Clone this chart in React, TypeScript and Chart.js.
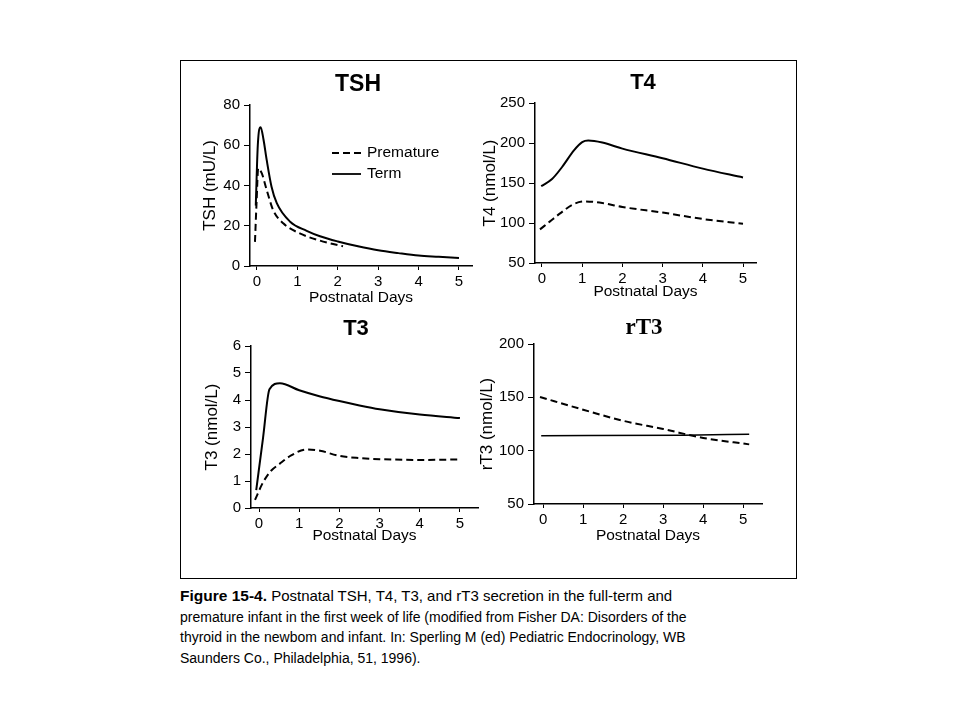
import React, { useEffect, useRef } from 'react';
import { Chart, registerables } from 'chart.js';

Chart.register(...registerables);

// ---------- data ----------
const xTickValues = [0, 1, 2, 3, 4, 5];
const tshTicks = [0, 20, 40, 60, 80];
const t4Ticks = [50, 100, 150, 200, 250];
const t3Ticks = [0, 1, 2, 3, 4, 5, 6];
const rt3Ticks = [50, 100, 150, 200];

const seriesLabels = ['Premature', 'Term'];

const tshPrematureDays = [-0.05, -0.01, 0.03, 0.12, 0.24, 0.4, 0.65, 1.06, 1.56, 2.0, 2.13];
const tshPrematureValues = [12, 32, 48.5, 46, 37.8, 27.8, 21.2, 16.2, 12.6, 10.4, 9.8];
const tshTermDays = [-0.03, 0.02, 0.09, 0.16, 0.24, 0.36, 0.49, 0.82, 1.23, 1.56, 2, 2.5, 3, 3.5, 4, 4.5, 5];
const tshTermValues = [30, 60, 69, 63, 52.7, 39.4, 31.2, 22, 17.5, 14.8, 12.2, 9.8, 7.8, 6.4, 5.2, 4.6, 4.0];

const t4PrematureDays = [-0.05, 0.2, 0.45, 0.78, 1.07, 1.5, 2, 3, 4, 5];
const t4PrematureValues = [92, 102, 112, 123.5, 127, 125, 120, 113, 105, 99];
const t4TermDays = [-0.02, 0.25, 0.5, 0.8, 1.0, 1.15, 1.5, 2, 3, 4, 5];
const t4TermValues = [146, 155, 170, 191, 201, 203, 200.5, 193, 181, 168, 157];

const t3PrematureDays = [-0.1, 0.1, 0.3, 0.5, 0.8, 1.19, 1.52, 2, 2.5, 3, 4, 5];
const t3PrematureValues = [0.3, 0.95, 1.38, 1.62, 1.95, 2.17, 2.12, 1.93, 1.85, 1.81, 1.78, 1.8];
const t3TermDays = [-0.07, 0.1, 0.26, 0.52, 1, 1.5, 2, 2.5, 3, 4, 5];
const t3TermValues = [0.66, 2.6, 4.4, 4.62, 4.36, 4.14, 3.96, 3.8, 3.66, 3.46, 3.33];

const rt3PrematureDays = [-0.08, 1, 2, 3, 4, 5.15];
const rt3PrematureValues = [150.3, 138.4, 128, 120.3, 111.9, 105.9];
const rt3TermDays = [-0.05, 3.5, 5.15];
const rt3TermValues = [114, 114.5, 115.5];

const captionFirstBold = 'Figure 15-4.';
const captionFirstRest = ' Postnatal TSH, T4, T3, and rT3 secretion in the full-term and';
const captionLines = [
  'premature infant in the first week of life (modified from Fisher DA: Disorders of the',
  'thyroid in the newbom and infant. In: Sperling M (ed) Pediatric Endocrinology, WB',
  'Saunders Co., Philadelphia, 51, 1996).',
];

// ---------- styling / layout ----------
const SANS = '"Liberation Sans", Arial, Helvetica, sans-serif';
const SERIF = '"Liberation Serif", "Times New Roman", serif';
const DASH = [7, 4];
const Y_TITLE_SIZE = 17;
const X_TITLE_SIZE = 15.5;

type Series = { label: string; days: number[]; values: number[]; dashed: boolean; width?: number };
type PanelDef = {
  key: string;
  title: string;
  titleFont: string;
  titlePos: [number, number];
  yTitle: string;
  yTicks: number[];
  xMin: number;
  xMax: number;
  area: { left: number; right: number; top: number; bottom: number };
  canvas: { left: number; top: number; right: number; bottom: number };
  series: Series[];
  legend?: { x: number; y: number; len: number; gap: number; textGap: number };
};

const panels: PanelDef[] = [
  {
    key: 'tsh',
    title: 'TSH',
    titleFont: `bold 23px ${SANS}`,
    titlePos: [358, 85],
    yTitle: 'TSH (mU/L)',
    yTicks: tshTicks,
    xMin: -0.173,
    xMax: 5.322,
    area: { left: 250, right: 472, top: 105, bottom: 266 },
    canvas: { left: 200, top: 64, right: 484, bottom: 307 },
    series: [
      { label: seriesLabels[0], days: tshPrematureDays, values: tshPrematureValues, dashed: true },
      { label: seriesLabels[1], days: tshTermDays, values: tshTermValues, dashed: false },
    ],
    legend: { x: 332, y: 153, len: 29, gap: 21, textGap: 6 },
  },
  {
    key: 't4',
    title: 'T4',
    titleFont: `bold 22px ${SANS}`,
    titlePos: [643, 83],
    yTitle: 'T4 (nmol/L)',
    yTicks: t4Ticks,
    xMin: -0.174,
    xMax: 5.323,
    area: { left: 535, right: 756, top: 103, bottom: 263 },
    canvas: { left: 480, top: 64, right: 768, bottom: 301 },
    series: [
      { label: seriesLabels[0], days: t4PrematureDays, values: t4PrematureValues, dashed: true },
      { label: seriesLabels[1], days: t4TermDays, values: t4TermValues, dashed: false },
    ],
  },
  {
    key: 't3',
    title: 'T3',
    titleFont: `bold 22px ${SANS}`,
    titlePos: [356, 329],
    yTitle: 'T3 (nmol/L)',
    yTicks: t3Ticks,
    xMin: -0.2,
    xMax: 5.45,
    area: { left: 251, right: 478, top: 346, bottom: 508 },
    canvas: { left: 202, top: 310, right: 490, bottom: 545 },
    series: [
      { label: seriesLabels[0], days: t3PrematureDays, values: t3PrematureValues, dashed: true },
      { label: seriesLabels[1], days: t3TermDays, values: t3TermValues, dashed: false },
    ],
  },
  {
    key: 'rt3',
    title: 'rT3',
    titleFont: `bold 23px ${SERIF}`,
    titlePos: [644, 328],
    yTitle: 'rT3 (nmol/L)',
    yTicks: rt3Ticks,
    xMin: -0.23,
    xMax: 5.47,
    area: { left: 534, right: 762, top: 344, bottom: 504 },
    canvas: { left: 477, top: 310, right: 774, bottom: 545 },
    series: [
      { label: seriesLabels[0], days: rt3PrematureDays, values: rt3PrematureValues, dashed: true },
      { label: seriesLabels[1], days: rt3TermDays, values: rt3TermValues, dashed: false, width: 1.5 },
    ],
  },
];

const panelTextPlugin = {
  id: 'panelText',
  afterDraw(chart: any, _args: any, opts: any) {
    const ctx = chart.ctx as CanvasRenderingContext2D;
    ctx.save();
    ctx.fillStyle = '#000';
    ctx.textBaseline = 'middle';
    if (opts.title) {
      ctx.font = opts.title.font;
      ctx.textAlign = 'center';
      ctx.fillText(opts.title.text, opts.title.x, opts.title.y);
    }
    if (opts.legend) {
      const lg = opts.legend;
      chart.data.datasets.forEach((ds: any, i: number) => {
        const y = lg.y + i * lg.gap;
        ctx.beginPath();
        ctx.setLineDash(ds.borderDash || []);
        ctx.lineWidth = 1.8;
        ctx.strokeStyle = '#000';
        ctx.moveTo(lg.x, y);
        ctx.lineTo(lg.x + lg.len, y);
        ctx.stroke();
        ctx.setLineDash([]);
        ctx.font = `15.5px ${SANS}`;
        ctx.textAlign = 'left';
        ctx.fillText(ds.label, lg.x + lg.len + lg.textGap, y);
      });
    }
    ctx.restore();
  },
};

function buildConfig(p: PanelDef): any {
  const cl = p.canvas.left;
  const ct = p.canvas.top;
  return {
    type: 'line',
    data: {
      datasets: p.series.map((s) => ({
        label: s.label,
        data: s.days.map((d, i) => ({ x: d, y: s.values[i] })),
        borderColor: '#000',
        borderWidth: s.width ?? 2,
        borderDash: s.dashed ? DASH : [],
        pointRadius: 0,
        fill: false,
        cubicInterpolationMode: 'monotone',
      })),
    },
    options: {
      responsive: false,
      animation: false,
      events: [],
      layout: {
        padding: {
          left: 0,
          top: p.area.top - ct,
          right: p.canvas.right - p.area.right,
          bottom: 0,
        },
      },
      plugins: {
        legend: { display: false },
        title: { display: false },
        tooltip: { enabled: false },
        panelText: {
          title: { text: p.title, font: p.titleFont, x: p.titlePos[0] - cl, y: p.titlePos[1] - ct },
          legend: p.legend ? { ...p.legend, x: p.legend.x - cl, y: p.legend.y - ct } : null,
        },
      },
      scales: {
        x: {
          type: 'linear',
          min: p.xMin,
          max: p.xMax,
          afterFit: (s: any) => {
            s.height = p.canvas.bottom - p.area.bottom;
          },
          afterBuildTicks: (s: any) => {
            s.ticks = xTickValues.map((v) => ({ value: v }));
          },
          grid: { drawOnChartArea: false, drawTicks: true, tickLength: 4, color: '#000', lineWidth: 1 },
          border: { display: true, color: '#000', width: 1.5 },
          ticks: { color: '#000', font: { family: SANS, size: 15 }, padding: 3, maxRotation: 0, autoSkip: false },
          title: { display: true, text: 'Postnatal Days', color: '#000', font: { family: SANS, size: X_TITLE_SIZE }, padding: 0 },
        },
        y: {
          type: 'linear',
          min: p.yTicks[0],
          max: p.yTicks[p.yTicks.length - 1],
          afterFit: (s: any) => {
            s.width = p.area.left - cl;
          },
          afterBuildTicks: (s: any) => {
            s.ticks = p.yTicks.map((v) => ({ value: v }));
          },
          grid: { drawOnChartArea: false, drawTicks: true, tickLength: 6, color: '#000', lineWidth: 1 },
          border: { display: true, color: '#000', width: 1.5 },
          ticks: { color: '#000', font: { family: SANS, size: 15 }, padding: 4, autoSkip: false },
          title: { display: true, text: p.yTitle, color: '#000', font: { family: SANS, size: Y_TITLE_SIZE }, padding: 0 },
        },
      },
    },
    plugins: [panelTextPlugin],
  };
}

function Panel({ def }: { def: PanelDef }) {
  const ref = useRef<HTMLCanvasElement | null>(null);
  const w = def.canvas.right - def.canvas.left;
  const h = def.canvas.bottom - def.canvas.top;
  useEffect(() => {
    if (!ref.current) return;
    const chart = new Chart(ref.current, buildConfig(def));
    return () => chart.destroy();
  }, [def]);
  return (
    <canvas
      ref={ref}
      width={w}
      height={h}
      style={{ position: 'absolute', left: def.canvas.left, top: def.canvas.top, width: w, height: h }}
    />
  );
}

export default function App() {
  return (
    <div style={{ position: 'absolute', left: 0, top: 0, width: 960, height: 720, background: '#fff' }}>
      <div
        style={{
          position: 'absolute',
          left: 180,
          top: 60,
          width: 617,
          height: 519,
          border: '1px solid #000',
          boxSizing: 'border-box',
        }}
      />
      {panels.map((p) => (
        <Panel key={p.key} def={p} />
      ))}
      <div
        style={{
          position: 'absolute',
          left: 180,
          top: 586,
          fontFamily: SANS,
          fontSize: 14,
          lineHeight: '20.5px',
          color: '#000',
          whiteSpace: 'nowrap',
        }}
      >
        <div style={{ fontSize: 15 }}>
          <b style={{ fontSize: 15.5 }}>{captionFirstBold}</b>
          {captionFirstRest}
        </div>
        {captionLines.map((l, i) => (
          <div key={i}>{l}</div>
        ))}
      </div>
    </div>
  );
}
